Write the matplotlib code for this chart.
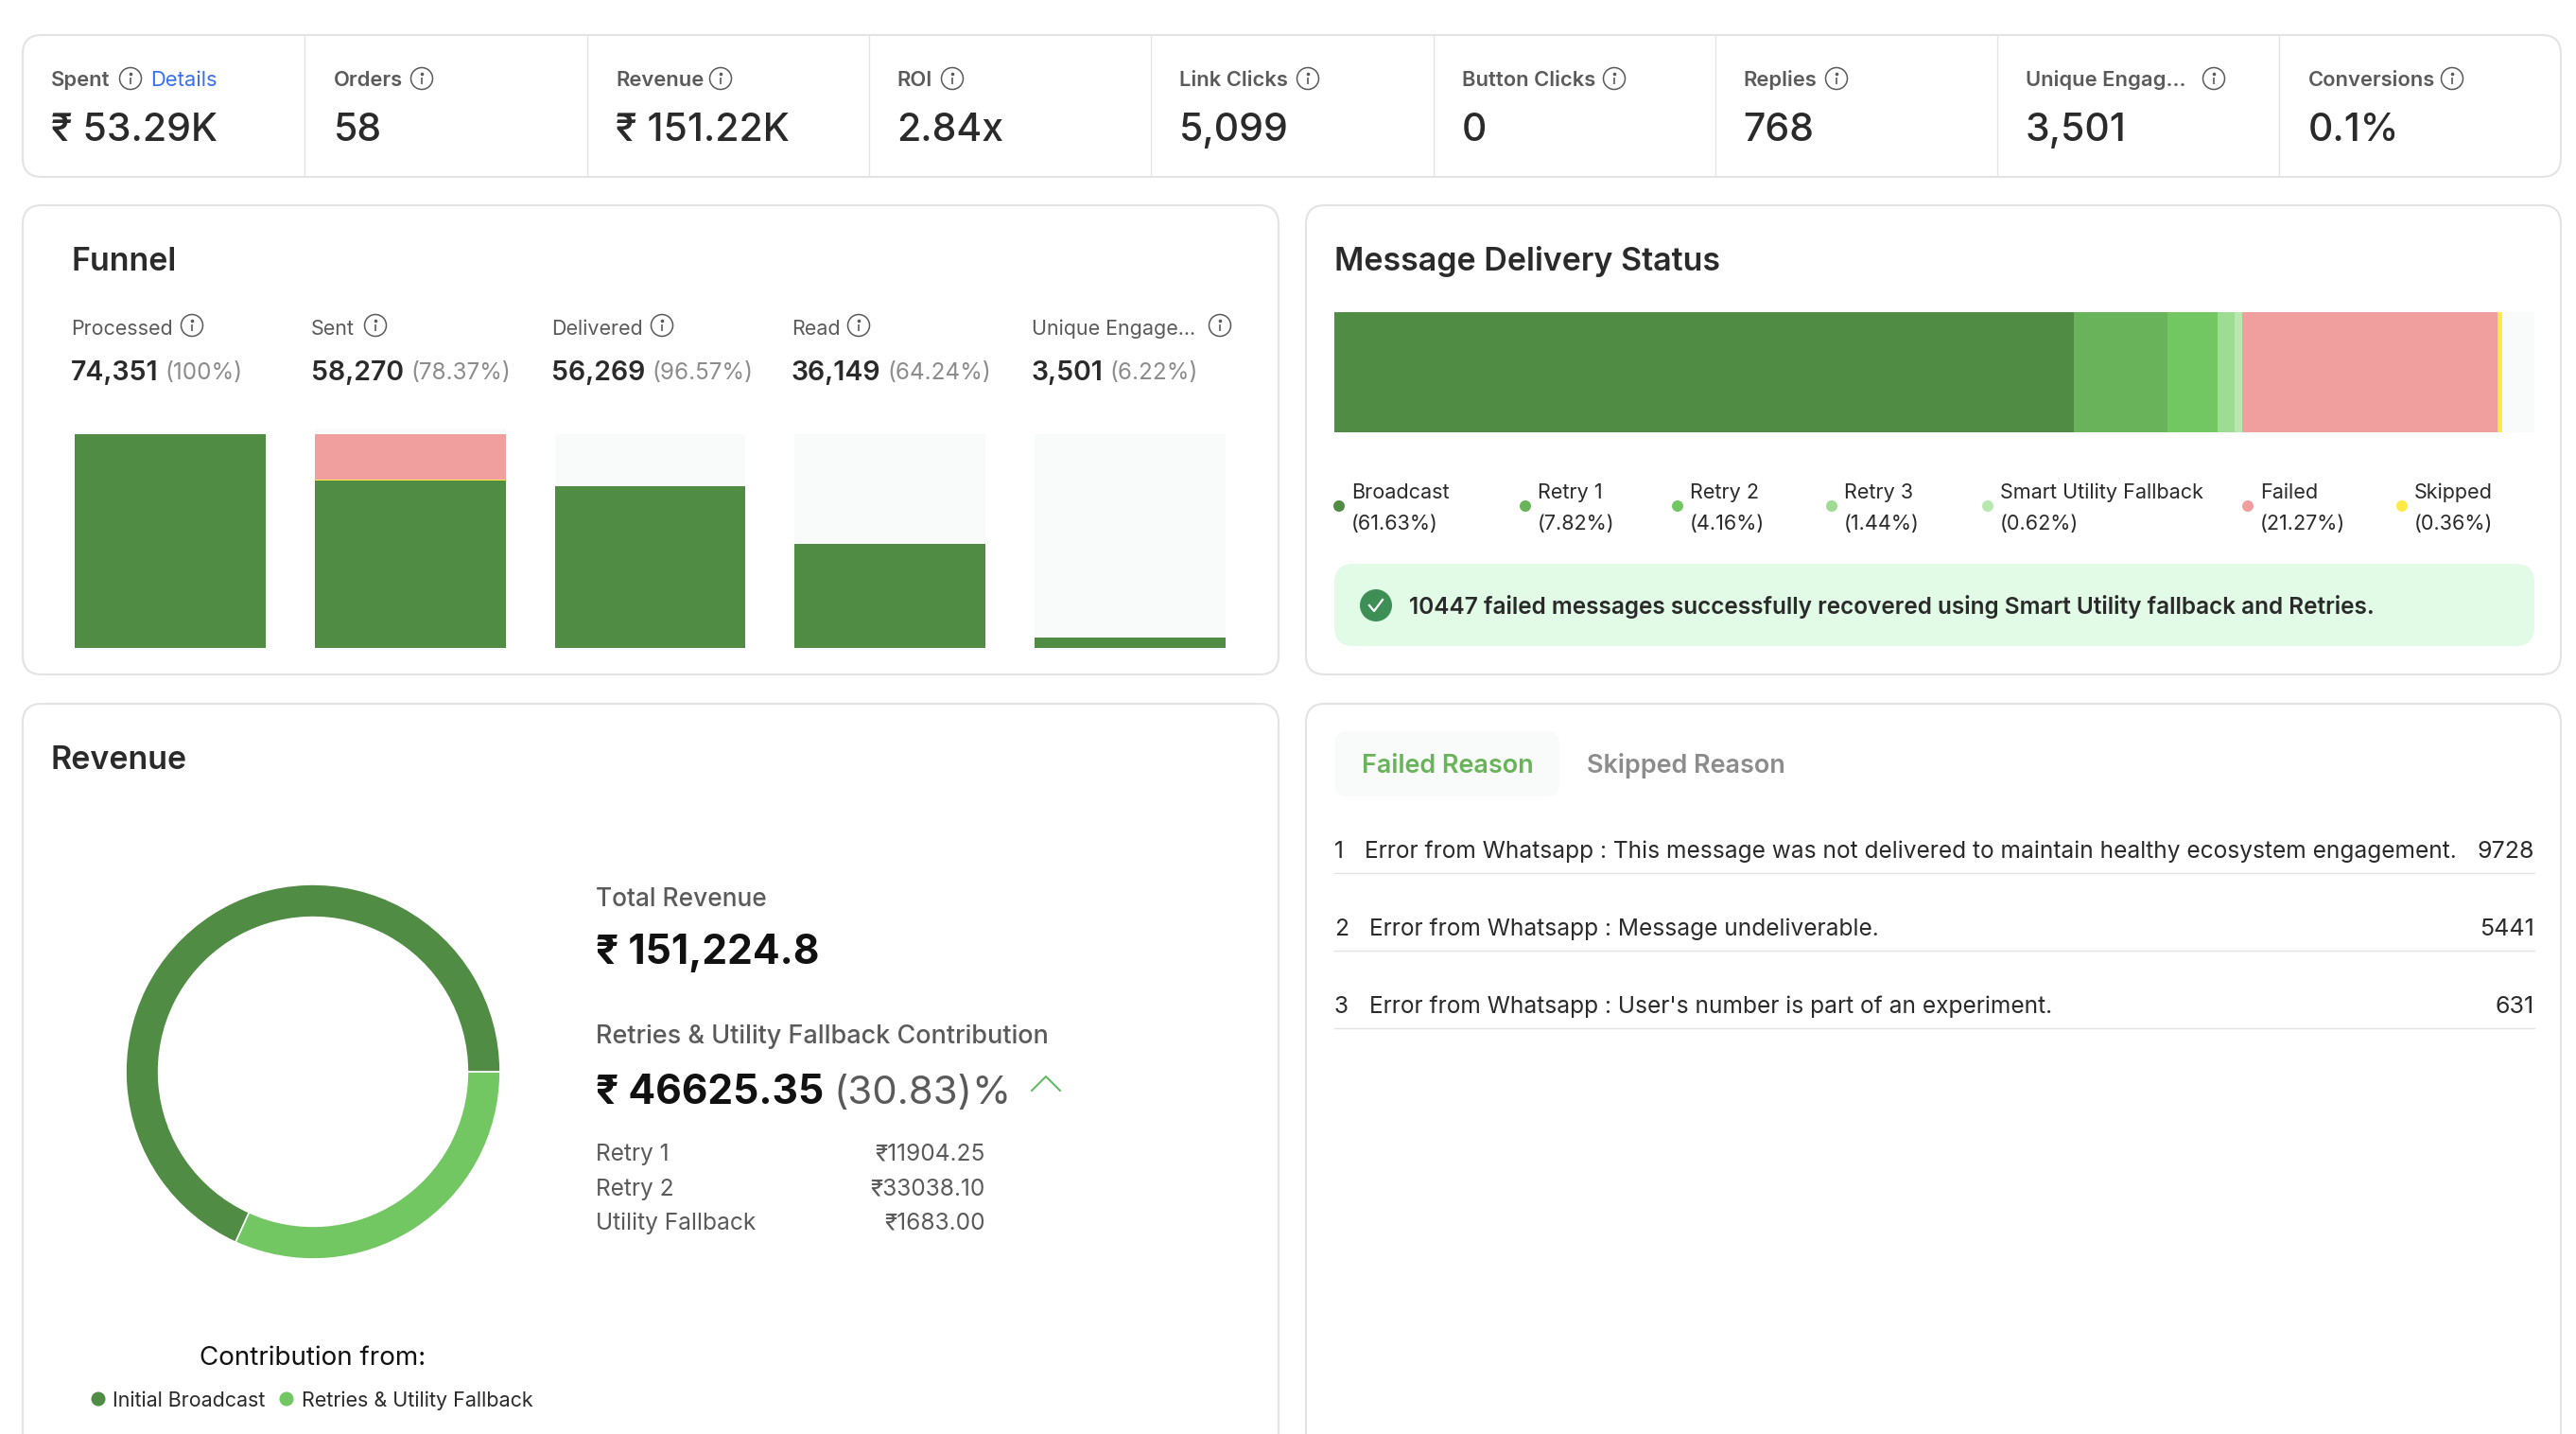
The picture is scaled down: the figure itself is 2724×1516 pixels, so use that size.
import matplotlib
matplotlib.use("Agg")
import matplotlib.pyplot as plt
from matplotlib.patches import Circle, FancyBboxPatch

plt.rcParams["font.family"] = ["Inter", "DejaVu Sans"]

W, H = 2724, 1516

# Stat strip
stat_labels = ["Spent", "Orders", "Revenue", "ROI", "Link Clicks", "Button Clicks", "Replies", "Unique Engag...", "Conversions"]
stat_values = ["₹ 53.29K", "58", "₹ 151.22K", "2.84x", "5,099", "0", "768", "3,501", "0.1%"]

# Funnel
funnel_labels = ["Processed", "Sent", "Delivered", "Read", "Unique Engage..."]
funnel_counts = [74351, 58270, 56269, 36149, 3501]
funnel_pcts = ["100%", "78.37%", "96.57%", "64.24%", "6.22%"]
funnel_skipped = [0, 268, 0, 0, 0]
funnel_failed = [0, 15813, 0, 0, 0]
funnel_track = [74351, 76325, 74351, 74351, 74351]

# Delivery status
status_labels = ["Broadcast", "Retry 1", "Retry 2", "Retry 3", "Smart Utility Fallback", "Failed", "Skipped"]
status_pcts = [61.63, 7.82, 4.16, 1.44, 0.62, 21.27, 0.36]
recovered_msg = "10447 failed messages successfully recovered using Smart Utility fallback and Retries."

# Revenue
total_revenue = 151224.8
fallback_revenue = 46625.35
fallback_pct = 30.83
# slices as drawn in the ring (fallback first)
donut_shares = [31.8, 68.2]
revenue_rows = ["Retry 1", "Retry 2", "Utility Fallback"]
revenue_row_values = [11904.25, 33038.10, 1683.00]

# Failed reasons
failed_reasons = [
    "Error from Whatsapp : This message was not delivered to maintain healthy ecosystem engagement.",
    "Error from Whatsapp : Message undeliverable.",
    "Error from Whatsapp : User's number is part of an experiment.",
]
failed_counts = [9728, 5441, 631]

# Colours
DARK = "#508C44"
STATUS_COLORS = ["#508C44", "#69B45A", "#72C763", "#9EDB93", "#B8E7B0", "#F19E9F", "#FFEB45"]
PINK = "#F19E9F"
YELLOW = "#FFEB45"
TRACK = "#F9FBFA"
BORDER = "#E3E3E3"
INK = "#2A2A2A"
GREY = "#5A5A5A"
PALE = "#8C8C8C"

fig = plt.figure(figsize=(W / 100, H / 100), dpi=100, facecolor="white")
bg = fig.add_axes([0, 0, 1, 1])
bg.set_xlim(0, W)
bg.set_ylim(H, 0)
bg.axis("off")


def px_axes(x0, y0, x1, y1):
    ax = fig.add_axes([x0 / W, 1 - y1 / H, (x1 - x0) / W, (y1 - y0) / H])
    ax.axis("off")
    return ax


def txt(x, y, s, px, color=INK, weight="normal", ha="left"):
    # y is the middle of the capitals, size is in pixels
    return bg.text(x, y + 0.36 * px, s, fontsize=px * 0.72, color=color, weight=weight, ha=ha, va="baseline")


def right_edge(t):
    box = t.get_window_extent(fig.canvas.get_renderer())
    return box.x1


def card(x0, y0, x1, y1):
    bg.add_patch(FancyBboxPatch((x0, y0), x1 - x0, y1 - y0, boxstyle="round,pad=0,rounding_size=20",
                                fc="white", ec=BORDER, lw=1.5))


def info(x, y, r=11.5):
    bg.add_patch(Circle((x, y), r, fc="none", ec=GREY, lw=1.1))
    bg.plot([x, x], [y - 1, y + 6], color=GREY, lw=1.2, solid_capstyle="butt")
    bg.plot([x], [y - 5], "o", color=GREY, ms=1.6)


# Cards
card(24, 37, 2708, 187)
card(24, 217, 1352, 713)
card(1381, 217, 2708, 713)
card(24, 744, 1352, 1640)
card(1381, 744, 2708, 1640)

# Stat strip
stat_x = [54, 353, 651, 948, 1247, 1546, 1843, 2142, 2441]
stat_icons = [138, 446, 762, 1007, 1383, 1707, 1942, 2341, 2593]
for i in range(1, 9):
    div = 24 + i * 298.3
    bg.plot([div, div], [37, 187], color=BORDER, lw=0.9)
for x, ix, label, value in zip(stat_x, stat_icons, stat_labels, stat_values):
    txt(x, 83, label, 22, GREY, "semibold")
    info(ix, 83)
    txt(x, 134, value, 41, INK, "medium")
txt(159, 83, "Details", 22, "#3B6FF0")

# Funnel
txt(76, 274, "Funnel", 34, INK, "semibold")
funnel_x = [75, 329, 583, 837, 1091]
funnel_icons = [203, 397, 700, 908, 1290]
for x, ix, label, count, pct in zip(funnel_x, funnel_icons, funnel_labels, funnel_counts, funnel_pcts):
    txt(x, 346, label, 21.5, GREY)
    info(ix, 344)
    t = txt(x, 392, f"{count:,}", 28.5, INK, "semibold")
    txt(right_edge(t) + 7, 392, f"({pct})", 24.2, PALE)

funnel_ax = px_axes(79, 453, 1296, 685)
xs = range(len(funnel_counts))
funnel_ax.bar(xs, funnel_track, width=0.796, color=TRACK)
funnel_ax.bar(xs, funnel_counts, width=0.796, color=DARK)
funnel_ax.bar(xs, funnel_skipped, width=0.796, bottom=funnel_counts, color=YELLOW)
failed_bottom = [c + s for c, s in zip(funnel_counts, funnel_skipped)]
funnel_ax.bar(xs, funnel_failed, width=0.796, bottom=failed_bottom, color=PINK)
funnel_ax.set_xlim(-0.398, 4.398)
funnel_ax.set_ylim(0, 76325)

# Delivery status
txt(1411, 274, "Message Delivery Status", 34, INK, "semibold")
status_ax = px_axes(1411, 330, 2680, 457)
status_ax.barh([0], [100], height=1, color=TRACK)
left = 0
for pct, color in zip(status_pcts, STATUS_COLORS):
    status_ax.barh([0], [pct], left=left, height=1, color=color)
    left += pct
status_ax.set_xlim(0, 100)
status_ax.set_ylim(-0.5, 0.5)

legend_dots = [1416, 1613, 1774, 1937, 2102, 2377, 2540]
for x, label, pct, color in zip(legend_dots, status_labels, status_pcts, STATUS_COLORS):
    bg.add_patch(Circle((x, 535), 6, fc=color, ec="none"))
    txt(x + 13, 519, label, 21.6, INK)
    txt(x + 13, 552, f"({pct}%)", 21.6, INK)

bg.add_patch(FancyBboxPatch((1411, 596), 1269, 87, boxstyle="round,pad=0,rounding_size=20", fc="#E1FBE6", ec="none"))
bg.add_patch(Circle((1455, 640), 17, fc="#3D8F55", ec="none"))
bg.plot([1448, 1453, 1462], [640, 646, 634], color="white", lw=1.6)
txt(1490, 640, recovered_msg, 24.4, INK, "semibold")

# Revenue
txt(54, 801, "Revenue", 34, INK, "semibold")
donut_ax = px_axes(133, 935, 529, 1331)
donut_ax.pie(donut_shares, colors=["#72C763", DARK], startangle=0,
             counterclock=False, radius=1.0, wedgeprops={"width": 0.175, "edgecolor": "white", "linewidth": 1.2})
donut_ax.set_xlim(-1, 1)
donut_ax.set_ylim(-1, 1)

txt(331, 1433, "Contribution from:", 27.8, "#111111", ha="center")
bg.add_patch(Circle((104, 1479), 7.5, fc=DARK, ec="none"))
txt(119, 1479, "Initial Broadcast", 21.4, INK)
bg.add_patch(Circle((303, 1479), 7.5, fc="#72C763", ec="none"))
txt(319, 1479, "Retries & Utility Fallback", 21.5, INK)

txt(630, 949, "Total Revenue", 26.3, GREY, "medium")
txt(630, 1004, f"₹ {total_revenue:,.1f}", 42.5, "#111111", "bold")
txt(630, 1093, "Retries & Utility Fallback Contribution", 27, GREY, "medium")
t = txt(630, 1152, f"₹ {fallback_revenue}", 42.5, "#111111", "bold")
txt(881, 1152, f"({fallback_pct})%", 42, GREY)
bg.plot([1091, 1106, 1121], [1153, 1138, 1153], color="#5CB85C", lw=1.4)
for y, label, value in zip([1218, 1255, 1291], revenue_rows, revenue_row_values):
    txt(630, y, label, 24.5, GREY)
    txt(1042, y, f"₹{value:.2f}", 24.5, GREY, ha="right")

# Failed reasons
bg.add_patch(FancyBboxPatch((1411, 773), 238, 69, boxstyle="round,pad=0,rounding_size=14", fc=TRACK, ec="none"))
txt(1440, 807, "Failed Reason", 27, "#69B45A", "semibold")
txt(1678, 807, "Skipped Reason", 27, PALE, "semibold")
for i, (reason, count, y) in enumerate(zip(failed_reasons, failed_counts, [898, 980, 1062])):
    n = txt(1411, y, str(i + 1), 24.5, INK)
    txt(right_edge(n) + 22, y, reason, 24.5, INK)
    txt(2680, y, str(count), 25, INK, ha="right")
    bg.plot([1411, 2680], [y + 25, y + 25], color=BORDER, lw=1.0)

fig.savefig("out.png", dpi=100)
